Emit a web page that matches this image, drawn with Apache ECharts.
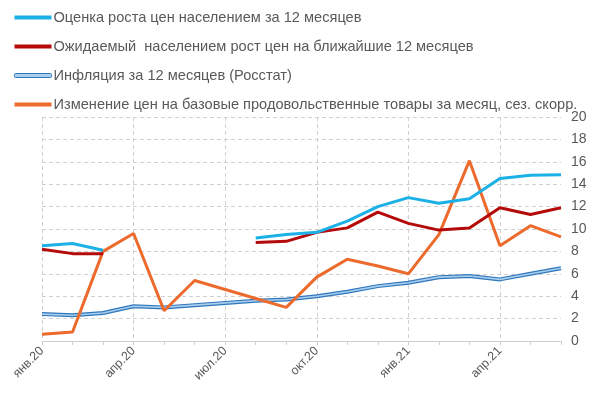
<!DOCTYPE html>
<html>
<head>
<meta charset="utf-8">
<script src="https://cdn.jsdelivr.net/npm/echarts@6/dist/echarts.min.js"></script>
<style>
  html, body { margin: 0; padding: 0; background: #fff; }
  #chart { width: 600px; height: 398px; }
</style>
</head>
<body>
<div id="chart"></div>
<script>
const months = ['янв.20', 'фев.20', 'мар.20', 'апр.20', 'май.20', 'июн.20', 'июл.20', 'авг.20', 'сен.20',
    'окт.20', 'ноя.20', 'дек.20', 'янв.21', 'фев.21', 'мар.21', 'апр.21', 'май.21', 'июн.21']

// оценка роста цен населением
const perceived = [8.5, 8.7, 8.1, null, null, null, null, 9.2, 9.5, 9.7, 10.7, 12.0, 12.8, 12.3, 12.7, 14.5, 14.8, 14.85]
// ожидаемый рост цен
const expected = [8.2, 7.8, 7.8, null, null, null, null, 8.8, 8.9, 9.7, 10.1, 11.5, 10.5, 9.9, 10.1, 11.9, 11.3, 11.9]
// инфляция, Росстат
const inflation = [2.4, 2.3, 2.5, 3.1, 3.0, 3.2, 3.4, 3.6, 3.7, 4.0, 4.4, 4.9, 5.2, 5.7, 5.8, 5.5, 6.0, 6.5]
// базовые продовольственные товары, м/м сез.скорр.
const food = [0.6, 0.8, 8.0, 9.6, 2.7, 5.4, 4.6, 3.8, 3.0, 5.7, 7.3, 6.7, 6.0, 9.5, 16.1, 8.5, 10.3, 9.3]

const yTicks = {min: 0, max: 20, step: 2}

const names = [
    'Оценка роста цен населением за 12 месяцев',
    'Ожидаемый  населением рост цен на ближайшие 12 месяцев',
    'Инфляция за 12 месяцев (Росстат)',
    'Изменение цен на базовые продовольственные товары за месяц, сез. скорр.'
]

const textColor = '#595959'
const gridColor = '#d0d0d0'

let chart = echarts.init(document.getElementById('chart'))

function lineSeries(name, data, color, width, z) {
    return {
        name: name,
        type: 'line',
        data: data,
        showSymbol: false,
        symbol: 'none',
        connectNulls: false,
        z: z,
        lineStyle: {color: color, width: width},
        itemStyle: {color: color},
        emphasis: {disabled: true}
    }
}

chart.setOption({
    animation: false,
    textStyle: {fontFamily: 'Liberation Sans, Arial, sans-serif'},
    legend: {
        orient: 'vertical',
        left: 14,
        top: 10,
        padding: 0,
        itemGap: 14,
        itemWidth: 37,
        itemHeight: 4,
        textStyle: {color: textColor, fontSize: 14.6, padding: [0, 0, 0, -3]},
        data: [
            {name: names[0], icon: 'rect', itemStyle: {color: '#1bb0e6'}},
            {name: names[1], icon: 'rect', itemStyle: {color: '#b50a0a'}},
            {name: names[2], icon: 'roundRect', itemStyle: {color: '#a9cdec', borderColor: '#2f78bd', borderWidth: 1}},
            {name: names[3], icon: 'rect', itemStyle: {color: '#eb6a2c'}}
        ]
    },
    grid: {left: 42, right: 39, top: 117, bottom: 57, containLabel: false},
    xAxis: {
        type: 'category',
        data: months,
        boundaryGap: false,
        axisLine: {lineStyle: {color: gridColor, width: 1}},
        axisTick: {show: true, interval: 0, length: 4, lineStyle: {color: gridColor}},
        axisLabel: {interval: 2, rotate: 45, color: textColor, fontSize: 12.5, margin: 8},
        splitLine: {show: true, interval: 2, lineStyle: {color: gridColor, type: [4, 3]}}
    },
    yAxis: {
        type: 'value',
        position: 'right',
        min: yTicks.min,
        max: yTicks.max,
        interval: yTicks.step,
        axisLine: {show: false},
        axisTick: {show: false},
        axisLabel: {color: textColor, fontSize: 14, margin: 10},
        splitLine: {show: true, lineStyle: {color: gridColor, type: [4, 3]}}
    },
    series: [
        lineSeries(names[2], inflation, '#2f78bd', 4, 2),
        Object.assign(lineSeries('inflation-core', inflation, '#a9cdec', 1.6, 3), {silent: true}),
        lineSeries(names[3], food, '#eb6a2c', 3, 4),
        lineSeries(names[1], expected, '#b50a0a', 3, 5),
        lineSeries(names[0], perceived, '#1bb0e6', 3, 6)
    ]
})
</script>
</body>
</html>
